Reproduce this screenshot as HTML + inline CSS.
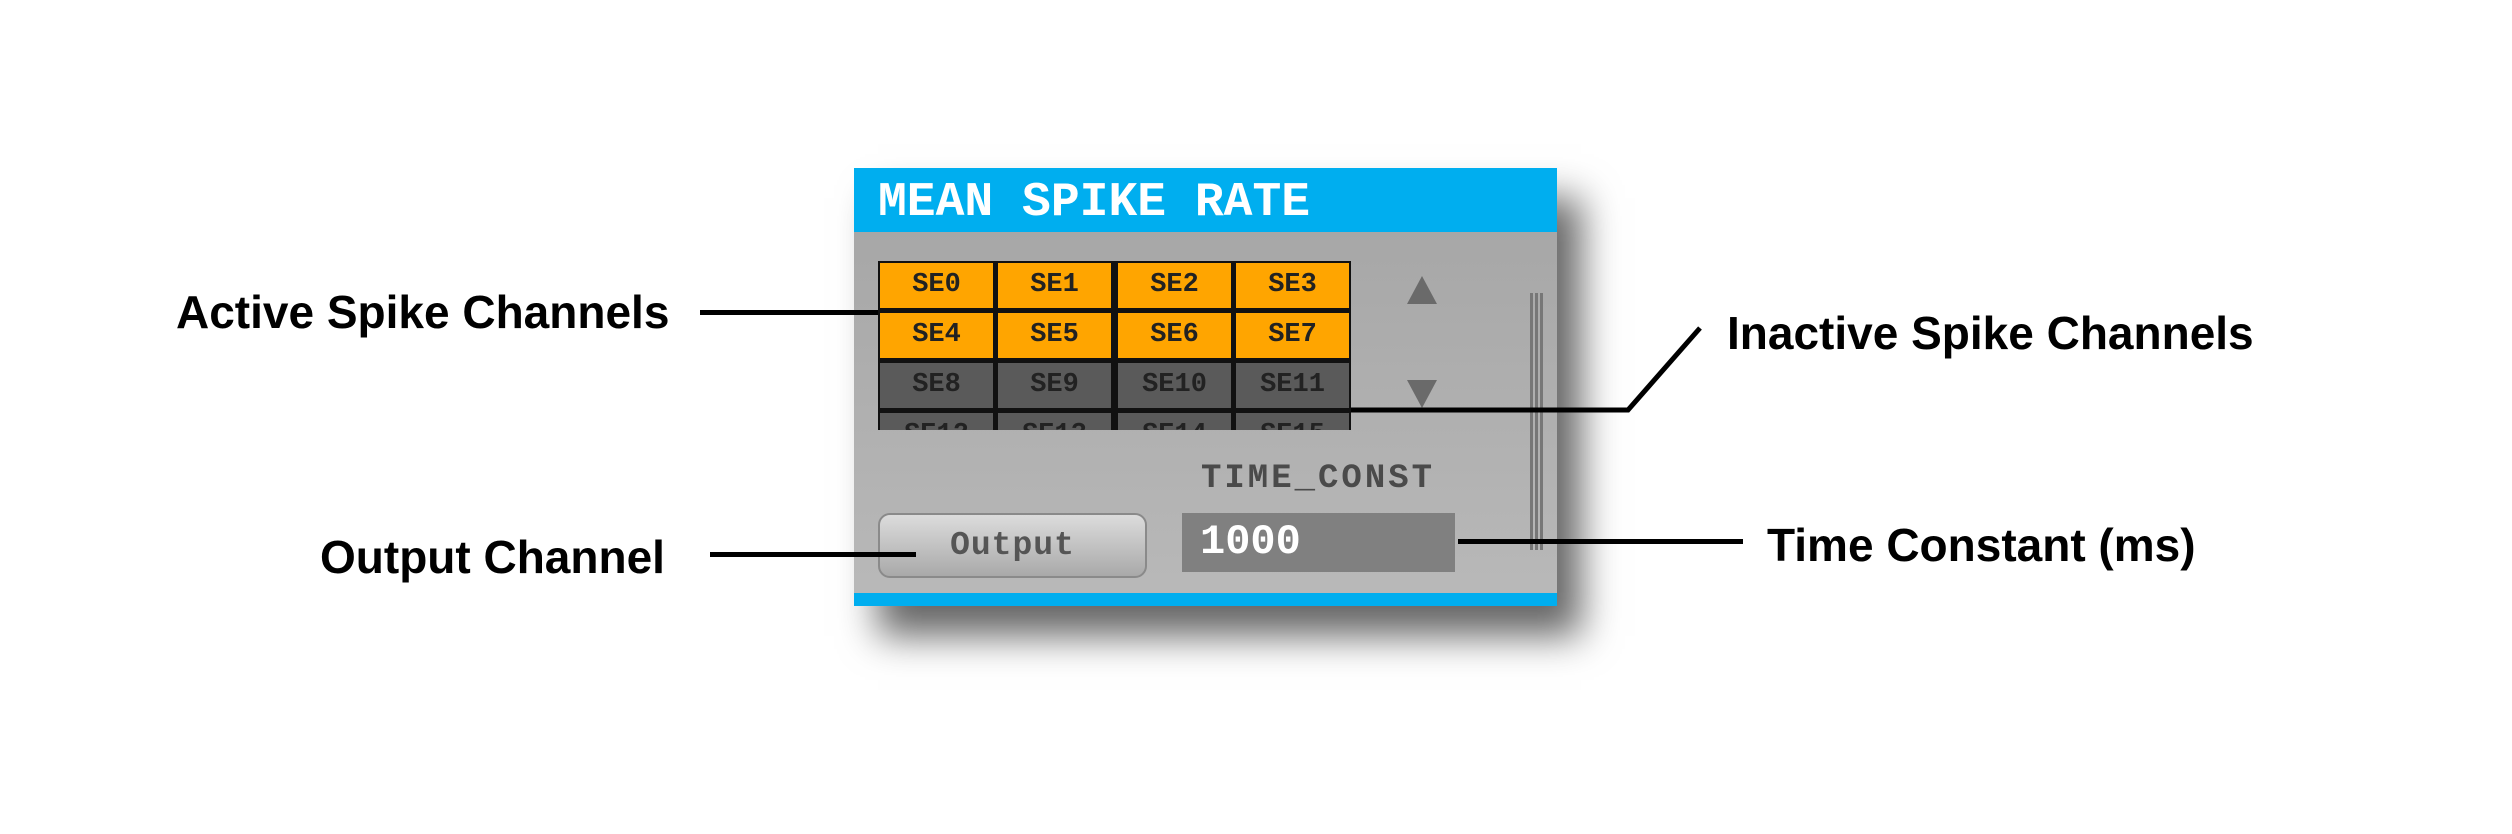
<!DOCTYPE html>
<html><head><meta charset="utf-8"><style>
html,body{margin:0;padding:0;background:#fff;}
body{width:2512px;height:834px;position:relative;overflow:hidden;font-family:"Liberation Sans",sans-serif;}
.abs{position:absolute;}
.lbl{position:absolute;font-weight:bold;font-size:46px;color:#000;white-space:nowrap;line-height:1;transform:translateY(-50%);}
.ln{position:absolute;background:#000;height:5px;}
#panel{left:854px;top:168px;width:703px;height:438px;background:linear-gradient(#a4a4a4,#b9b9b9);box-shadow:24px 30px 36px rgba(0,0,0,0.6);}
.hdr{left:0;top:0;width:703px;height:64px;background:#00aeef;}
.hdr span{position:absolute;left:24px;top:8px;font-family:"Liberation Mono",monospace;font-weight:bold;font-size:48px;color:#fff;}
.btn{position:absolute;border:2px solid #111;box-sizing:border-box;font-family:"Liberation Mono",monospace;font-weight:bold;font-size:27px;color:#222;text-align:center;}
.on{background:#ffa500;}
.off{background:#5a5a5a;}
</style></head><body>
<div id="panel" class="abs">
  <div class="abs hdr"><span>MEAN SPIKE RATE</span></div>
  <div class="abs" style="left:0;top:425px;width:703px;height:13px;background:#00aeef"></div>
  <div id="grid" class="abs" style="left:24px;top:93px;width:473px;height:169px;overflow:hidden;background:#111"></div>
  <div class="abs" style="left:553px;top:108px;width:0;height:0;border-left:15px solid transparent;border-right:15px solid transparent;border-bottom:28px solid #6a6a6a"></div>
  <div class="abs" style="left:553px;top:212px;width:0;height:0;border-left:15px solid transparent;border-right:15px solid transparent;border-top:28px solid #6a6a6a"></div>
  <div class="abs" style="left:676px;top:125px;width:3px;height:257px;background:#777"></div>
  <div class="abs" style="left:681px;top:125px;width:3px;height:257px;background:#777"></div>
  <div class="abs" style="left:686px;top:125px;width:3px;height:257px;background:#777"></div>
  <div class="abs" style="left:347px;top:294px;font-family:'Liberation Mono',monospace;font-weight:bold;font-size:34px;color:#4a4a4a;letter-spacing:3px;line-height:1">TIME_CONST</div>
  <div class="abs" style="left:24px;top:345px;width:269px;height:65px;box-sizing:border-box;border:2px solid #8a8a8a;border-radius:12px;background:linear-gradient(#dcdcdc,#a9a9a9);font-family:'Liberation Mono',monospace;font-weight:bold;font-size:33px;color:#555;text-align:center;line-height:61px;letter-spacing:1px">Output</div>
  <div class="abs" style="left:328px;top:345px;width:273px;height:59px;background:#808080;font-family:'Liberation Mono',monospace;font-weight:bold;font-size:42px;color:#fff;line-height:59px;padding-left:18px;box-sizing:border-box">1000</div>
</div>

<div class="lbl" style="left:176px;top:312px">Active Spike Channels</div>
<div class="ln" style="left:700px;top:310px;width:178px"></div>
<div class="lbl" style="left:1727px;top:333px">Inactive Spike Channels</div>
<svg class="abs" style="left:0;top:0" width="2512" height="834"><polyline points="1351,410 1628,410 1700,328" fill="none" stroke="#000" stroke-width="5"/></svg>
<div class="lbl" style="left:320px;top:557px">Output Channel</div>
<div class="ln" style="left:710px;top:552px;width:206px"></div>
<div class="lbl" style="left:1767px;top:545px">Time Constant (ms)</div>
<div class="ln" style="left:1458px;top:539px;width:285px"></div>

<script>
const g=document.getElementById('grid');
for(let i=0;i<16;i++){
  const r=Math.floor(i/4),c=i%4;
  const d=document.createElement('div');
  
  
  d.className='btn '+(i<8?'on':'off');
  d.style.left=(c*118+(c>=2?2:0))+'px';
  d.style.top=(r*50)+'px';
  d.style.width='117px';d.style.height='49px';
  d.style.lineHeight='45px';
  d.textContent='SE'+i;
  g.appendChild(d);
}
</script>
</body></html>
